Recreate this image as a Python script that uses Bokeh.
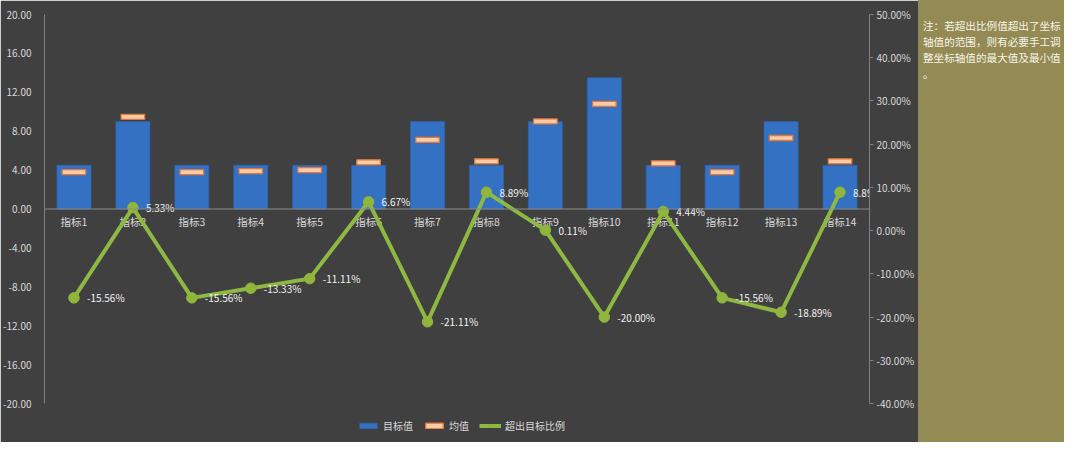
from bokeh.plotting import figure
from bokeh.models import (Range1d, LinearAxis, FixedTicker, NumeralTickFormatter, Span,
                          ColumnDataSource, Legend, LegendItem, Div, FactorRange)
from bokeh.layouts import row
from bokeh.core.properties import value
from bokeh.embed import file_html
from bokeh.resources import INLINE

# ---------------- data ----------------
categories = ["指标1", "指标2", "指标3", "指标4", "指标5", "指标6", "指标7",
              "指标8", "指标9", "指标10", "指标11", "指标12", "指标13", "指标14"]
target_values = [4.5, 9.0, 4.5, 4.5, 4.5, 4.5, 9.0, 4.5, 9.0, 13.5, 4.5, 4.5, 9.0, 4.5]
mean_values = [3.80, 9.48, 3.80, 3.90, 4.00, 4.80, 7.10, 4.90, 9.01, 10.80, 4.70, 3.80, 7.30, 4.90]
excess_ratios = [-0.1556, 0.0533, -0.1556, -0.1333, -0.1111, 0.0667, -0.2111,
                 0.0889, 0.0011, -0.2000, 0.0444, -0.1556, -0.1889, 0.0889]
left_ticks = [-20, -16, -12, -8, -4, 0, 4, 8, 12, 16, 20]
right_ticks = [-0.4, -0.3, -0.2, -0.1, 0.0, 0.1, 0.2, 0.3, 0.4, 0.5]
legend_labels = ["目标值", "均值", "超出目标比例"]
note_lines = ["注：若超出比例值超出了坐标", "轴值的范围，则有必要手工调", "整坐标轴值的最大值及最小值", "。"]

FONT = "Noto Sans CJK SC"
BG = "#404040"
TXT = "#d9d9d9"

# layout geometry (pixels)
W, H = 918, 442
TOP, AXIS_H, LEFT, RIGHT = 14, 389, 44, 49
FRAME_H = H - TOP                      # frame runs to the bottom so the legend fits inside
extra = (FRAME_H - AXIS_H) / AXIS_H    # fraction of axis span below the visible axis

L_MIN, L_MAX = left_ticks[0], left_ticks[-1]
R_MIN, R_MAX = right_ticks[0], right_ticks[-1]

src = ColumnDataSource(dict(
    cat=categories,
    target=target_values,
    mean=mean_values,
    ratio=excess_ratios,
    ratio_label=[f"{r * 100:.2f}%" for r in excess_ratios],
))

p = figure(x_range=FactorRange(*categories, range_padding=0),
           y_range=Range1d(L_MIN - extra * (L_MAX - L_MIN), L_MAX),
           width=W, height=H,
           output_backend="svg", toolbar_location=None,
           x_axis_location=None,
           background_fill_color=BG, border_fill_color=BG,
           outline_line_color=BG, outline_line_width=3,
           min_border_left=LEFT, min_border_right=RIGHT,
           min_border_top=TOP, min_border_bottom=0)
p.grid.visible = False

# left axis
ly = p.yaxis[0]
ly.bounds = (L_MIN, L_MAX)
ly.ticker = FixedTicker(ticks=left_ticks)
ly.formatter = NumeralTickFormatter(format="0.00")
ly.axis_line_color = "#7f7f7f"
ly.major_tick_line_color = None
ly.minor_tick_line_color = None
ly.major_label_text_color = TXT
ly.major_label_text_font_size = "10px"
ly.major_label_text_font = FONT
ly.major_label_standoff = 7

# right axis
p.extra_y_ranges = {"pct": Range1d(R_MIN - extra * (R_MAX - R_MIN), R_MAX)}
ry = LinearAxis(y_range_name="pct", ticker=FixedTicker(ticks=right_ticks),
                formatter=NumeralTickFormatter(format="0.00%"), bounds=(R_MIN, R_MAX))
ry.axis_line_color = "#7f7f7f"
ry.major_tick_line_color = "#7f7f7f"
ry.major_tick_out = 4
ry.major_tick_in = 0
ry.minor_tick_line_color = None
ry.major_label_text_color = TXT
ry.major_label_text_font_size = "10px"
ry.major_label_text_font = FONT
ry.major_label_standoff = 3
p.add_layout(ry, "right")

# zero line
p.add_layout(Span(location=0, dimension="width", line_color="#8c8c8c", line_width=1))

bars = p.vbar(x="cat", top="target", bottom=0, width=0.58, source=src,
              fill_color="#3571C2", line_color="#2C62AE", line_width=0.6)

p.text(x="cat", y=0, text="cat", source=src, text_align="center", text_baseline="middle",
       y_offset=12, text_color=TXT, text_font_size="10.5px", text_font=value(FONT))

means = p.rect(x="cat", y="mean", width=0.4, height=5, height_units="screen", source=src,
               fill_color="#F9CBA8", line_color="#E2783A", line_width=1.3)

line = p.line(x="cat", y="ratio", y_range_name="pct", source=src,
              line_color="#8DB842", line_width=4)
dots = p.scatter(x="cat", y="ratio", y_range_name="pct", source=src, size=10.5,
                 fill_color="#8FB53C", line_color="#8FB53C")

p.text(x="cat", y="ratio", text="ratio_label", y_range_name="pct", source=src,
       x_offset=13, text_align="left", text_baseline="middle",
       text_color="#f2f2f2", text_font_size="10px", text_font=value(FONT))

legend = Legend(items=[LegendItem(label=legend_labels[0], renderers=[bars]),
                       LegendItem(label=legend_labels[1], renderers=[means]),
                       LegendItem(label=legend_labels[2], renderers=[line, dots])],
                orientation="horizontal", location=(313, 9),
                background_fill_alpha=0, border_line_color=None,
                label_text_color=TXT, label_text_font_size="10px", label_text_font=FONT,
                glyph_width=22, glyph_height=7, spacing=10, label_standoff=4,
                padding=2, margin=0)
p.add_layout(legend, "center")

note = Div(text="<br>".join(note_lines), width=146, height=442, margin=0,
           styles={"background-color": "#948A54", "color": "#f7f5ea",
                   "font-family": FONT, "font-size": "10.6px", "line-height": "16px",
                   "padding": "18px 2px 0 5px", "box-sizing": "border-box",
                   "white-space": "nowrap", "overflow": "hidden"})

layout = row(p, note, spacing=0)
open("out.html", "w").write(file_html(layout, INLINE))
